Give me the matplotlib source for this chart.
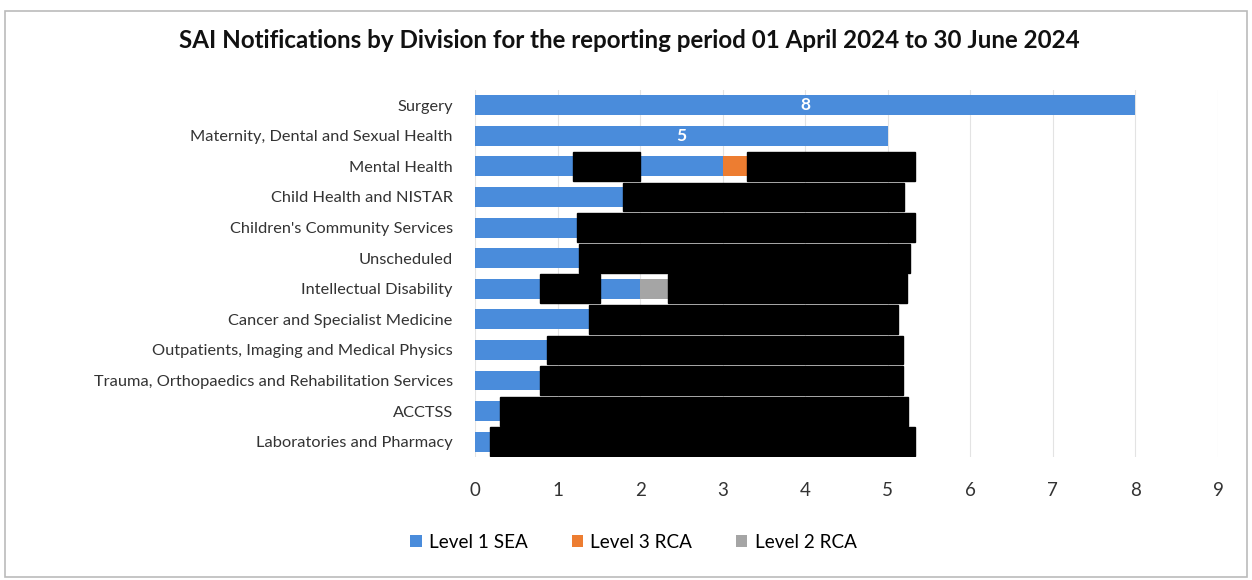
import matplotlib
matplotlib.use("Agg")
import matplotlib.pyplot as plt
from matplotlib.patches import Rectangle
import numpy as np

plt.rcParams['font.family'] = ['Lato', 'DejaVu Sans']

divisions = ["Surgery", "Maternity, Dental and Sexual Health", "Mental Health",
             "Child Health and NISTAR", "Children's Community Services", "Unscheduled",
             "Intellectual Disability", "Cancer and Specialist Medicine",
             "Outpatients, Imaging and Medical Physics",
             "Trauma, Orthopaedics and Rehabilitation Services", "ACCTSS",
             "Laboratories and Pharmacy"]
level1_sea = [8, 5, 3, 4, 3, 3, 2, 3, 2, 2, 1, 1]
level3_rca = [0, 0, 1, 0, 0, 0, 0, 0, 0, 0, 0, 0]
level2_rca = [0, 0, 0, 0, 0, 0, 1, 0, 0, 0, 0, 0]
shown_labels = {0: "8", 1: "5"}

# redaction overlays present in the source image: (row, x_start, x_end)
redactions = [(2, 1.19, 2.0), (2, 3.29, 5.33), (3, 1.79, 5.2), (4, 1.23, 5.33),
              (5, 1.26, 5.27), (6, 0.79, 1.51), (6, 2.34, 5.23), (7, 1.38, 5.12),
              (8, 0.87, 5.18), (9, 0.79, 5.18), (10, 0.3, 5.24), (11, 0.18, 5.33)]

c_blue = "#4A8CDB"
c_orange = "#ED7D31"
c_grey = "#A5A5A5"

fig = plt.figure(figsize=(12.52, 5.8), dpi=100)
ax = fig.add_axes([0.3794, 0.212, 0.5934, 0.633])

y = np.arange(len(divisions))
h = 0.65
l1 = np.array(level1_sea)
l3 = np.array(level3_rca)
l2 = np.array(level2_rca)
ax.barh(y, l1, height=h, color=c_blue, label="Level 1 SEA", zorder=2)
ax.barh(y, l3, left=l1, height=h, color=c_orange, label="Level 3 RCA", zorder=2)
ax.barh(y, l2, left=l1 + l3, height=h, color=c_grey, label="Level 2 RCA", zorder=2)

for i, t in shown_labels.items():
    ax.text(l1[i] / 2, y[i], t, color="white", ha="center", va="center",
            fontsize=12.5, fontweight="bold", zorder=3)

for r, a, b in redactions:
    ax.add_patch(Rectangle((a, r - 0.47), b - a, 0.94, color="black", zorder=5))

ax.set_xlim(0, 9)
ax.set_ylim(len(divisions) - 0.5, -0.5)
ax.set_xticks(range(0, 10))
ax.set_yticks(y)
ax.set_yticklabels(divisions, fontsize=11.8, color="#333333")
ax.tick_params(axis='x', labelsize=13.5, colors="#333333", length=0, pad=18)
ax.tick_params(axis='y', length=0, pad=16)
ax.xaxis.grid(True, color="#E3E3E3", linewidth=0.8, zorder=0)
ax.set_axisbelow(True)
for s in ax.spines.values():
    s.set_visible(False)

fig.suptitle("SAI Notifications by Division for the reporting period 01 April 2024 to 30 June 2024",
             x=0.503, y=0.95, fontsize=17.4, fontweight="bold", color="#111111")

fig.legend(loc="center", bbox_to_anchor=(0.506, 0.065), ncol=3, frameon=False,
           fontsize=13.6, handlelength=0.6, handleheight=0.6, columnspacing=2.3,
           handletextpad=0.4)

fig.add_artist(Rectangle((0.004, 0.006), 0.992, 0.975, transform=fig.transFigure,
                         fill=False, edgecolor="#BBBBBB", linewidth=1.2))

fig.savefig("out.png", dpi=100, facecolor="white")
